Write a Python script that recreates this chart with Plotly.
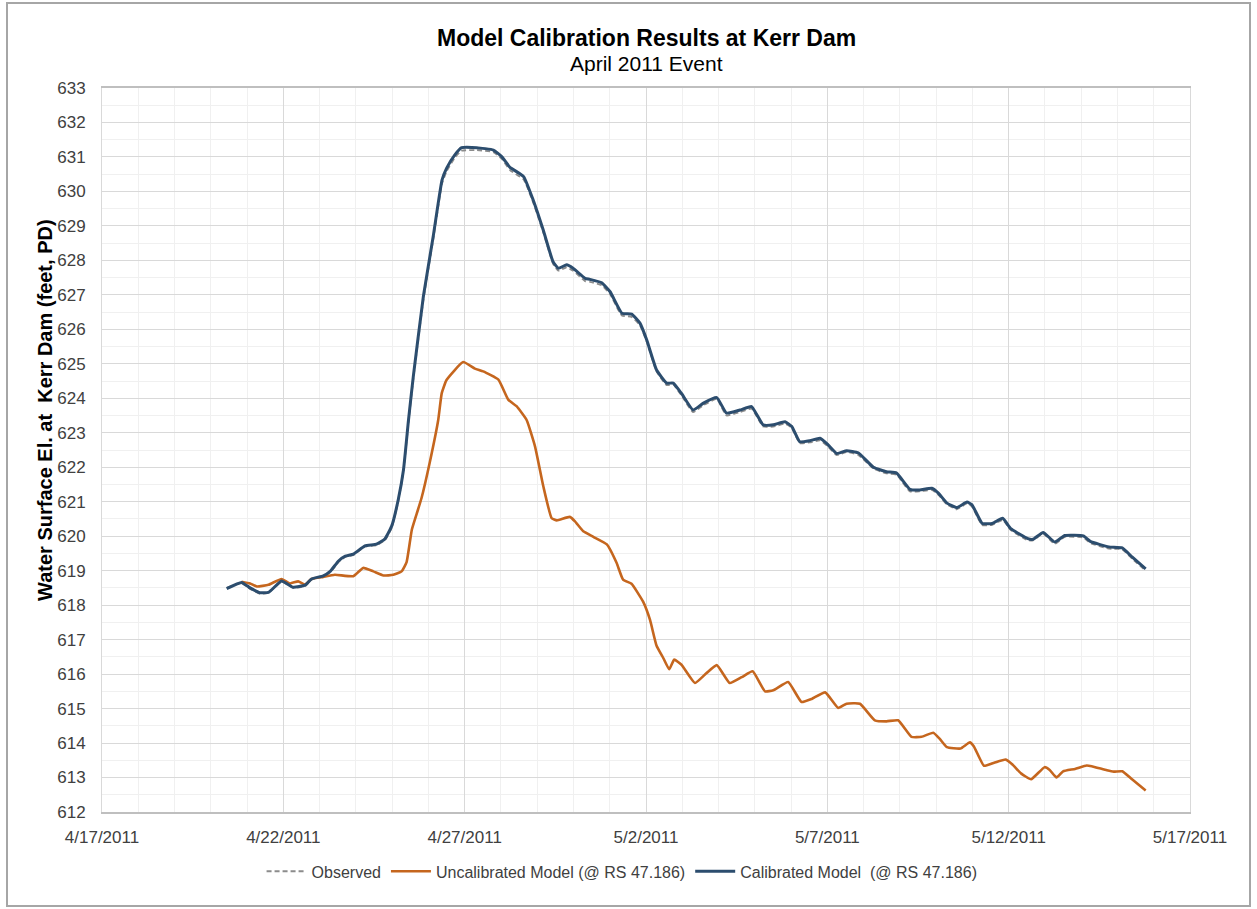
import plotly.graph_objects as go

# ---------------- data ----------------
cal_times = [
    "2011-04-20 10:30", "2011-04-20 20:20", "2011-04-21 02:00", "2011-04-21 08:30", "2011-04-21 14:10",
    "2011-04-21 22:50", "2011-04-22 06:30", "2011-04-22 14:25", "2011-04-22 18:40", "2011-04-23 02:25",
    "2011-04-23 07:00", "2011-04-23 12:30", "2011-04-23 17:00", "2011-04-23 22:20", "2011-04-24 06:00",
    "2011-04-24 13:40", "2011-04-24 19:10", "2011-04-24 23:45", "2011-04-25 04:00", "2011-04-25 07:30",
    "2011-04-25 10:50", "2011-04-25 14:00", "2011-04-25 20:40", "2011-04-26 03:10", "2011-04-26 09:00",
    "2011-04-26 12:00", "2011-04-26 17:30", "2011-04-26 22:00", "2011-04-27 08:00", "2011-04-27 19:00",
    "2011-04-28 00:30", "2011-04-28 06:00", "2011-04-28 15:00", "2011-04-28 21:20", "2011-04-29 04:00",
    "2011-04-29 10:30", "2011-04-29 14:00", "2011-04-29 19:30", "2011-04-29 23:45", "2011-04-30 07:40",
    "2011-04-30 10:50", "2011-04-30 18:40", "2011-05-01 00:15", "2011-05-01 08:00", "2011-05-01 14:30",
    "2011-05-01 20:00", "2011-05-02 00:30", "2011-05-02 07:00", "2011-05-02 13:40", "2011-05-02 18:00",
    "2011-05-02 23:30", "2011-05-03 07:10", "2011-05-03 14:00", "2011-05-03 22:50", "2011-05-04 05:15",
    "2011-05-04 14:10", "2011-05-04 21:50", "2011-05-05 05:30", "2011-05-05 12:15", "2011-05-05 20:00",
    "2011-05-06 00:30", "2011-05-06 05:45", "2011-05-06 12:30", "2011-05-06 19:10", "2011-05-07 00:30",
    "2011-05-07 06:15", "2011-05-07 12:45", "2011-05-07 20:25", "2011-05-08 06:30", "2011-05-08 15:10",
    "2011-05-08 21:50", "2011-05-09 06:40", "2011-05-09 13:10", "2011-05-09 21:10", "2011-05-10 01:30",
    "2011-05-10 07:10", "2011-05-10 13:40", "2011-05-10 20:25", "2011-05-10 23:45", "2011-05-11 06:30",
    "2011-05-11 13:10", "2011-05-11 20:00", "2011-05-12 01:25", "2011-05-12 12:45", "2011-05-12 16:05",
    "2011-05-12 22:50", "2011-05-13 06:30", "2011-05-13 13:10", "2011-05-14 01:25", "2011-05-14 06:00",
    "2011-05-14 18:15", "2011-05-15 03:10", "2011-05-15 09:50", "2011-05-15 18:40",
]

calibrated = [
    618.48, 618.66, 618.50, 618.36, 618.37, 618.70, 618.52, 618.58, 618.76, 618.85,
    618.98, 619.28, 619.42, 619.48, 619.72, 619.77, 619.92, 620.30, 621.05, 621.92,
    623.37, 624.63, 626.95, 628.69, 630.33, 630.67, 631.06, 631.27, 631.27, 631.20,
    631.01, 630.70, 630.43, 629.75, 628.88, 627.96, 627.77, 627.87, 627.77, 627.48,
    627.45, 627.35, 627.09, 626.47, 626.44, 626.18, 625.69, 624.82, 624.44, 624.44,
    624.14, 623.66, 623.86, 624.02, 623.57, 623.66, 623.76, 623.23, 623.23, 623.32,
    623.18, 622.74, 622.77, 622.84, 622.65, 622.40, 622.48, 622.42, 622.00, 621.87,
    621.83, 621.36, 621.34, 621.39, 621.25, 620.96, 620.83, 620.99, 620.91, 620.37,
    620.37, 620.52, 620.22, 619.93, 619.91, 620.11, 619.83, 620.02, 620.01, 619.85,
    619.69, 619.66, 619.39, 619.05,
]

observed = [
    618.50, 618.64, 618.47, 618.33, 618.36, 618.68, 618.50, 618.55, 618.74, 618.84,
    618.95, 619.25, 619.40, 619.45, 619.70, 619.74, 619.88, 620.25, 621.00, 621.88,
    623.30, 624.55, 626.85, 628.60, 630.22, 630.58, 630.98, 631.18, 631.20, 631.14,
    630.95, 630.62, 630.35, 629.68, 628.82, 627.90, 627.70, 627.80, 627.70, 627.40,
    627.38, 627.28, 627.02, 626.40, 626.36, 626.12, 625.64, 624.78, 624.38, 624.40,
    624.08, 623.60, 623.80, 623.98, 623.50, 623.60, 623.70, 623.18, 623.18, 623.26,
    623.14, 622.70, 622.72, 622.78, 622.60, 622.35, 622.44, 622.36, 621.96, 621.82,
    621.78, 621.30, 621.30, 621.34, 621.20, 620.92, 620.78, 620.95, 620.86, 620.32,
    620.33, 620.47, 620.18, 619.88, 619.88, 620.07, 619.78, 619.98, 619.96, 619.80,
    619.64, 619.62, 619.34, 619.00,
]

uncal_times = [
    "2011-04-20 20:20", "2011-04-21 02:00", "2011-04-21 06:30", "2011-04-21 14:10", "2011-04-21 22:50",
    "2011-04-22 04:20", "2011-04-22 09:50", "2011-04-22 14:25", "2011-04-22 18:40", "2011-04-23 02:25",
    "2011-04-23 10:05", "2011-04-23 22:20", "2011-04-24 04:50", "2011-04-24 11:30", "2011-04-24 18:15",
    "2011-04-25 00:45", "2011-04-25 06:15", "2011-04-25 09:35", "2011-04-25 13:00", "2011-04-25 16:20",
    "2011-04-25 19:25", "2011-04-26 01:00", "2011-04-26 06:30", "2011-04-26 08:50", "2011-04-26 12:00",
    "2011-04-26 23:00", "2011-04-27 06:45", "2011-04-27 12:15", "2011-04-27 22:20", "2011-04-28 04:50",
    "2011-04-28 10:20", "2011-04-28 17:00", "2011-04-28 22:35", "2011-04-29 04:05", "2011-04-29 09:35",
    "2011-04-29 13:00", "2011-04-29 21:35", "2011-04-30 01:00", "2011-04-30 06:30", "2011-04-30 13:10",
    "2011-04-30 22:05", "2011-05-01 04:35", "2011-05-01 08:50", "2011-05-01 14:25", "2011-05-01 22:05",
    "2011-05-02 02:40", "2011-05-02 07:00", "2011-05-02 11:30", "2011-05-02 15:20", "2011-05-02 18:40",
    "2011-05-02 23:30", "2011-05-03 08:25", "2011-05-03 16:05", "2011-05-03 22:50", "2011-05-04 07:25",
    "2011-05-04 15:20", "2011-05-04 22:35", "2011-05-05 06:45", "2011-05-05 12:15", "2011-05-05 22:05",
    "2011-05-06 06:55", "2011-05-06 13:40", "2011-05-06 22:35", "2011-05-07 07:10", "2011-05-07 12:45",
    "2011-05-07 21:35", "2011-05-08 07:25", "2011-05-08 15:10", "2011-05-08 22:50", "2011-05-09 07:40",
    "2011-05-09 14:25", "2011-05-09 22:05", "2011-05-10 02:25", "2011-05-10 07:10", "2011-05-10 16:05",
    "2011-05-10 22:20", "2011-05-11 01:00", "2011-05-11 07:40", "2011-05-11 14:25", "2011-05-11 22:05",
    "2011-05-12 02:40", "2011-05-12 08:10", "2011-05-12 14:50", "2011-05-12 23:45", "2011-05-13 03:10",
    "2011-05-13 07:40", "2011-05-13 12:00", "2011-05-13 19:55", "2011-05-14 03:35", "2011-05-14 06:55",
    "2011-05-14 17:00", "2011-05-14 21:35", "2011-05-15 03:10", "2011-05-15 09:50", "2011-05-15 18:40",
]

uncalibrated = [
    618.68, 618.63, 618.54, 618.59, 618.76, 618.63, 618.69, 618.60, 618.76, 618.82,
    618.88, 618.84, 619.08, 618.98, 618.86, 618.88, 618.98, 619.25, 620.18, 620.66,
    621.10, 622.16, 623.37, 624.15, 624.53, 625.05, 624.86, 624.78, 624.54, 623.96,
    623.77, 623.37, 622.60, 621.44, 620.52, 620.46, 620.56, 620.43, 620.14, 619.98,
    619.76, 619.22, 618.74, 618.62, 618.10, 617.57, 616.82, 616.46, 616.14, 616.42,
    616.27, 615.74, 616.03, 616.26, 615.74, 615.91, 616.08, 615.50, 615.53, 615.77,
    615.19, 615.28, 615.47, 615.02, 615.14, 615.14, 614.66, 614.63, 614.66, 614.18,
    614.18, 614.30, 614.12, 613.88, 613.84, 614.02, 613.90, 613.34, 613.43, 613.52,
    613.37, 613.12, 612.95, 613.30, 613.22, 613.00, 613.18, 613.25, 613.35, 613.33,
    613.21, 613.17, 613.18, 612.94, 612.62,
]

series_names = [
    "Observed",
    "Uncalibrated Model (@ RS 47.186)",
    "Calibrated Model \u00a0(@ RS 47.186)",
]

# ---------------- figure ----------------
FONT = "Liberation Sans, Arial, sans-serif"
BLUE = "#2C4D6E"
ORANGE = "#C5661E"
GRAY = "#8C8C8C"

fig = go.Figure()
fig.add_trace(go.Scatter(
    x=cal_times, y=observed, mode="lines", name=series_names[0],
    line=dict(color=GRAY, width=1.8, dash="5px,3px", shape="spline", smoothing=0.4),
))
fig.add_trace(go.Scatter(
    x=uncal_times, y=uncalibrated, mode="lines", name=series_names[1],
    line=dict(color=ORANGE, width=2.6, shape="spline", smoothing=0.4),
))
fig.add_trace(go.Scatter(
    x=cal_times, y=calibrated, mode="lines", name=series_names[2],
    line=dict(color=BLUE, width=3, shape="spline", smoothing=0.4),
))

fig.update_layout(
    width=1257, height=909,
    paper_bgcolor="white", plot_bgcolor="white",
    margin=dict(l=102, r=67, t=88, b=97, autoexpand=False),
    font=dict(family=FONT, size=16, color="#404040"),
    showlegend=True,
    legend=dict(
        orientation="h", x=0.478, xanchor="center", y=-0.082, yanchor="middle",
        font=dict(family=FONT, size=16, color="#404040"),
        bgcolor="rgba(0,0,0,0)", itemwidth=40, tracegroupgap=0,
    ),
    annotations=[
        dict(text="<b>Model Calibration Results at Kerr Dam</b>", xref="paper", yref="paper",
             x=0.5, y=1.069, xanchor="center", yanchor="middle", showarrow=False,
             font=dict(family=FONT, size=23, color="#000000")),
        dict(text="April 2011 Event", xref="paper", yref="paper",
             x=0.5, y=1.034, xanchor="center", yanchor="middle", showarrow=False,
             font=dict(family=FONT, size=21, color="#000000")),
        dict(text="<b>Water Surface El. at \u00a0Kerr Dam (feet, PD)</b>", xref="paper", yref="paper",
             x=(45 - 102) / 1088, y=(812 - 410) / 724, xanchor="center", yanchor="middle",
             textangle=-90, showarrow=False,
             font=dict(family=FONT, size=20, color="#000000")),
    ],
    shapes=[
        dict(type="rect", xref="paper", yref="paper",
             x0=(7 - 102) / 1088, x1=(1250 - 102) / 1088,
             y0=(812 - 906) / 724, y1=(812 - 3) / 724,
             line=dict(color="#A6A6A6", width=2), fillcolor="rgba(0,0,0,0)", layer="below"),
    ],
)

fig.update_xaxes(
    type="date", range=["2011-04-17", "2011-05-17"],
    tick0="2011-04-17", dtick=5 * 86400000, tickformat="%-m/%-d/%Y",
    showgrid=True, gridcolor="#D9D9D9", gridwidth=1,
    minor=dict(dtick=86400000, tick0="2011-04-17", showgrid=True, gridcolor="#F0F0F0", gridwidth=1),
    showline=True, linecolor="#BFBFBF", linewidth=1.5, mirror=True,
    ticks="", ticklabelstandoff=9, zeroline=False,
    tickfont=dict(family=FONT, size=17, color="#404040"),
)
fig.update_yaxes(
    range=[612, 633], dtick=1, tick0=612,
    showgrid=True, gridcolor="#D9D9D9", gridwidth=1,
    minor=dict(dtick=0.5, showgrid=True, gridcolor="#F0F0F0", gridwidth=1),
    showline=True, linecolor="#D9D9D9", linewidth=1, mirror=True,
    ticks="", ticklabelstandoff=12, zeroline=False,
    tickfont=dict(family=FONT, size=17, color="#404040"),
)

fig.write_html("out.html", config={"displayModeBar": False},
               post_script="document.body.style.margin='0px';")
